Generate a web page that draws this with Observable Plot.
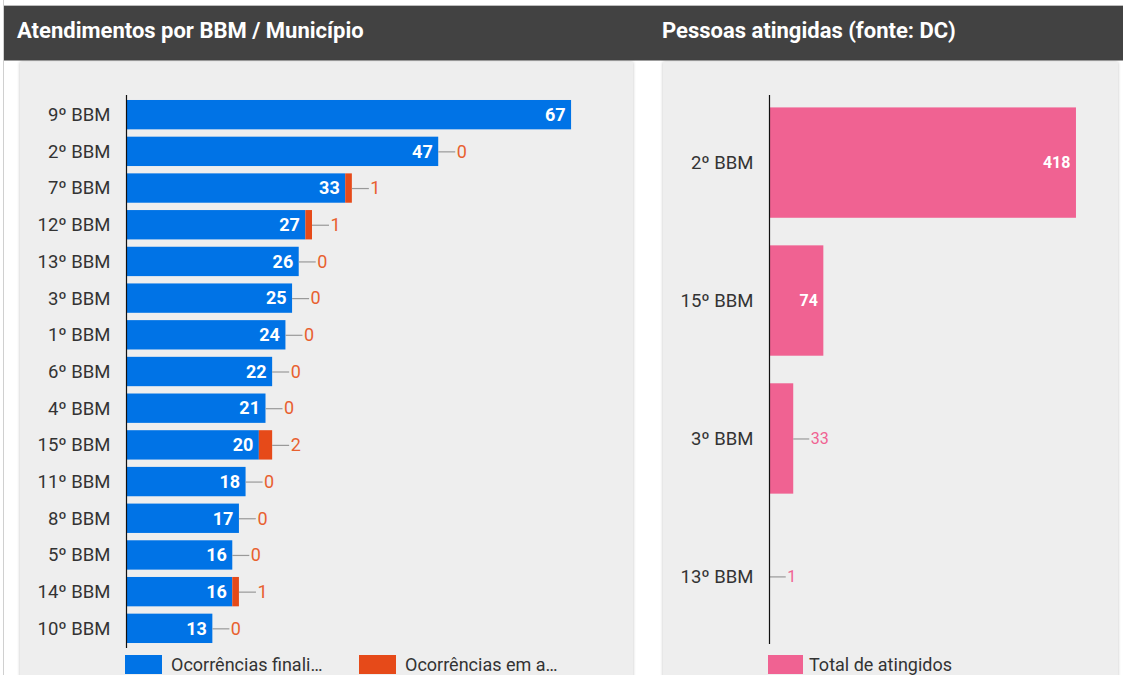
<!DOCTYPE html>
<html>
<head>
<meta charset="utf-8">
<script src="https://cdn.jsdelivr.net/npm/d3@7"></script>
<script src="https://cdn.jsdelivr.net/npm/@observablehq/plot@0.6"></script>
<style>
  html, body { margin: 0; padding: 0; background: #ffffff; width: 1123px; height: 675px; overflow: hidden; font-family: Roboto, sans-serif; }
  #frame { position: absolute; left: 3px; top: 0; width: 1120px; height: 675px; border-left: 1px solid #d0d0d0; }
  #header { position: absolute; left: 4px; top: 5px; width: 1119px; height: 56px; background: #424242; border-top: 1px solid #bdbdbd; border-bottom: 1px solid #9e9e9e; box-sizing: border-box; }
  .title { position: absolute; top: 12px; color: #ffffff; font-family: Roboto, sans-serif; font-weight: 700; font-size: 22px; white-space: nowrap; }
  .panel { position: absolute; top: 62px; height: 620px; background: #eeeeee; box-shadow: 0 0 3px rgba(0,0,0,0.25); }
  .chart { position: absolute; left: 0; top: 0; }
  .legend { position: absolute; top: 592px; display: flex; align-items: center; font-family: Roboto, sans-serif; font-size: 18px; color: #333; white-space: nowrap; }
  .sw { display: inline-block; width: 37px; height: 19px; margin-right: 9px; }
  .chart svg g[aria-label^="y-axis"] text { font-size: 18.5px; fill: #333; }
</style>
</head>
<body>
<div id="frame"></div>
<div id="header">
  <div class="title" style="left: 13px;">Atendimentos por BBM / Município</div>
  <div class="title" style="left: 658px;">Pessoas atingidas (fonte: DC)</div>
</div>
<div class="panel" id="leftPanel" style="left: 20px; width: 613px;">
  <div class="chart" id="leftChart"></div>
  <div class="legend" style="left: 105px;"><span class="sw" style="background:#0073e6"></span>Ocorrências finali…</div>
  <div class="legend" style="left: 339px;"><span class="sw" style="background:#e64a19"></span>Ocorrências em a…</div>
</div>
<div class="panel" id="rightPanel" style="left: 663px; width: 455px;">
  <div class="chart" id="rightChart"></div>
  <div class="legend" style="left: 105px;"><span class="sw" style="background:#f06292; width:35px; margin-right:6px;"></span>Total de atingidos</div>
</div>
<script>
// ---- Data: Atendimentos por BBM ----
const bbm = ["9º BBM","2º BBM","7º BBM","12º BBM","13º BBM","3º BBM","1º BBM","6º BBM","4º BBM","15º BBM","11º BBM","8º BBM","5º BBM","14º BBM","10º BBM"];
const finalizadas = [67,47,33,27,26,25,24,22,21,20,18,17,16,16,13];
const emAndamento = [0,0,1,1,0,0,0,0,0,2,0,0,0,1,0];
// rows whose "em andamento" annotation is shown in the reference
const showAndamento = [false,true,true,true,true,true,true,true,true,true,true,true,true,true,true];

// ---- Data: Pessoas atingidas ----
const dcBBM = ["2º BBM","15º BBM","3º BBM","13º BBM"];
const atingidos = [418,74,33,1];

const blue = "#0073e6", orange = "#e64a19", orangeText = "#e8602f", pink = "#f06292";

const rows = bbm.map((b, i) => ({bbm: b, fin: finalizadas[i], and: emAndamento[i], total: finalizadas[i] + emAndamento[i], show: showAndamento[i]}));
const annotated = rows.filter(d => d.show);

const left = Plot.plot({
  width: 613,
  height: 590,
  marginLeft: 106,
  marginRight: 42,
  marginTop: 33,
  marginBottom: 4,
  style: {background: "transparent", fontFamily: "Roboto, sans-serif", fontSize: "18px", color: "#333"},
  x: {domain: [0, 70], axis: null},
  y: {domain: bbm, paddingInner: 0.2, paddingOuter: 0.136, round: false, tickSize: 0, tickPadding: 16, label: null},
  marks: [
    Plot.barX(rows, {y: "bbm", x1: 0, x2: "fin", fill: blue}),
    Plot.barX(rows, {y: "bbm", x1: "fin", x2: "total", fill: orange}),
    Plot.text(rows, {y: "bbm", x: "fin", text: d => String(d.fin), textAnchor: "end", dx: -6, fill: "white", fontWeight: "bold", fontSize: 18}),
    Plot.ruleY(annotated, {y: "bbm", x1: "total", x2: "total", insetRight: -17, stroke: "#999999", strokeWidth: 1.2}),
    Plot.text(annotated, {y: "bbm", x: "total", text: d => String(d.and), textAnchor: "start", dx: 18, fill: orangeText, fontSize: 18}),
    Plot.ruleX([0], {stroke: "#111", strokeWidth: 1.2})
  ]
});
document.getElementById("leftChart").appendChild(left);

const drows = dcBBM.map((b, i) => ({bbm: b, v: atingidos[i]}));
const right = Plot.plot({
  width: 455,
  height: 590,
  marginLeft: 106,
  marginRight: 20,
  marginTop: 33,
  marginBottom: 8,
  style: {background: "transparent", fontFamily: "Roboto, sans-serif", fontSize: "18px", color: "#333"},
  x: {domain: [0, 448], axis: null},
  y: {domain: dcBBM, paddingInner: 0.2, paddingOuter: 0.09, round: false, tickSize: 0, tickPadding: 16, label: null},
  marks: [
    Plot.barX(drows, {y: "bbm", x1: 0, x2: "v", fill: pink}),
    Plot.text(drows.filter(d => d.v >= 50), {y: "bbm", x: "v", text: d => String(d.v), textAnchor: "end", dx: -6, fill: "white", fontWeight: "bold", fontSize: 16}),
    Plot.ruleY(drows.filter(d => d.v < 50), {y: "bbm", x1: "v", x2: "v", insetRight: -16, stroke: "#999999", strokeWidth: 1.2}),
    Plot.text(drows.filter(d => d.v < 50), {y: "bbm", x: "v", text: d => String(d.v), textAnchor: "start", dx: 17, fill: pink, fontSize: 16}),
    Plot.ruleX([0], {stroke: "#111", strokeWidth: 1.2})
  ]
});
document.getElementById("rightChart").appendChild(right);
</script>
</body>
</html>
